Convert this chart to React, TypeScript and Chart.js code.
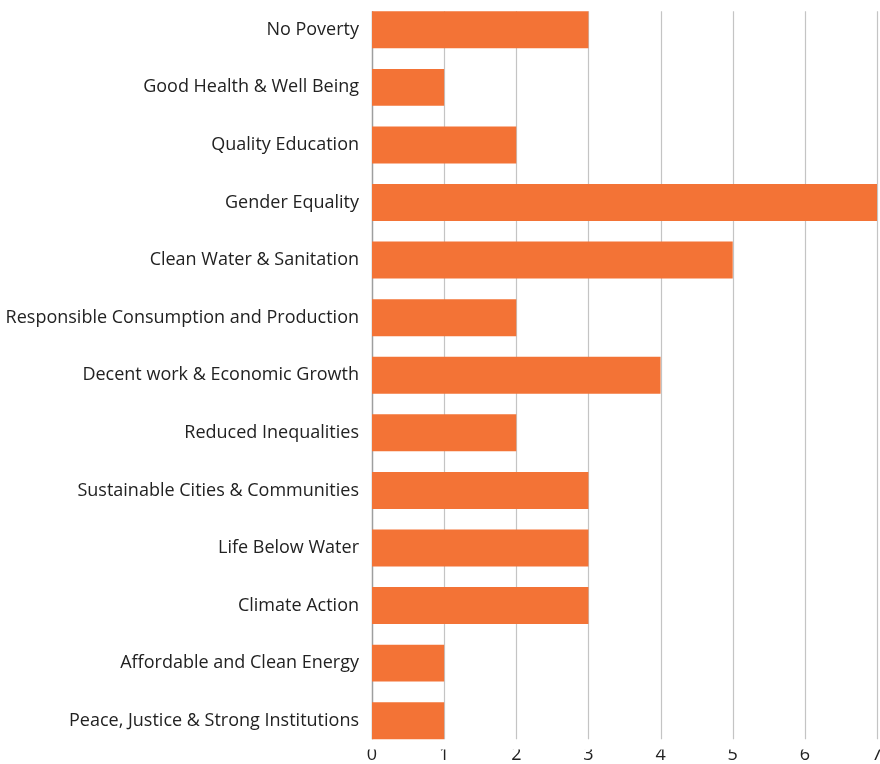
import React, { useEffect, useRef } from "react";
import { Chart, registerables } from "chart.js";

Chart.register(...registerables);

const categories: string[] = [
  "No Poverty",
  "Good Health & Well Being",
  "Quality Education",
  "Gender Equality",
  "Clean Water & Sanitation",
  "Responsible Consumption and Production",
  "Decent work & Economic Growth",
  "Reduced Inequalities",
  "Sustainable Cities & Communities",
  "Life Below Water",
  "Climate Action",
  "Affordable and Clean Energy",
  "Peace, Justice & Strong Institutions",
];

const values: number[] = [3, 1, 2, 7, 5, 2, 4, 2, 3, 3, 3, 1, 1];

const xMin = 0;
const xMax = 7;

const FONT = "'Open Sans', sans-serif";

const gridPlugin = {
  id: "barSpanGrid",
  beforeDatasetsDraw(chart: any) {
    const meta = chart.getDatasetMeta(0);
    const bars = meta.data;
    if (!bars.length) return;
    const first = bars[0];
    const last = bars[bars.length - 1];
    const top = first.y - first.height / 2;
    const bottom = last.y + last.height / 2;
    const xs = chart.scales.x;
    const ctx = chart.ctx;
    ctx.save();
    xs.ticks.forEach((t: any) => {
      const x = Math.round(xs.getPixelForValue(t.value)) + 0.5;
      ctx.beginPath();
      ctx.lineWidth = t.value === 0 ? 1.5 : 1.2;
      ctx.strokeStyle = t.value === 0 ? "#9e9e9e" : "#c4c4c4";
      ctx.moveTo(x, top);
      ctx.lineTo(x, bottom);
      ctx.stroke();
    });
    ctx.restore();
  },
};

export default function App() {
  const ref = useRef<HTMLCanvasElement | null>(null);
  useEffect(() => {
    if (!ref.current) return;
    const chart = new Chart(ref.current, {
      type: "bar",
      data: {
        labels: categories,
        datasets: [
          {
            data: values,
            backgroundColor: "#F37336",
            borderWidth: 0,
            barPercentage: 0.642,
            categoryPercentage: 1,
          },
        ],
      },
      options: {
        indexAxis: "y",
        responsive: false,
        animation: false,
        layout: { padding: { top: 1, left: 0, right: 13, bottom: 0 } },
        plugins: { legend: { display: false }, tooltip: { enabled: false } },
        scales: {
          x: {
            min: xMin,
            max: xMax,
            grid: { display: false, drawTicks: false },
            border: { display: false },
            ticks: {
              stepSize: 1,
              padding: -5,
              color: "#222",
              font: { family: FONT, size: 18 },
            },
            afterFit(scale: any) {
              scale.height = 30.5;
              scale.paddingLeft = 0;
              scale.paddingRight = 0;
            },
          },
          y: {
            grid: { display: false, drawTicks: false },
            border: { display: false },
            ticks: {
              padding: 13,
              color: "#222",
              font: { family: FONT, size: 18 },
              autoSkip: false,
            },
            afterFit(scale: any) {
              scale.width = 372;
              scale.paddingTop = 0;
              scale.paddingBottom = 0;
            },
          },
        },
      },
      plugins: [gridPlugin],
    });
    return () => chart.destroy();
  }, []);
  return (
    <div style={{ position: "fixed", left: 0, top: 0, width: 880, height: 764, overflow: "hidden", background: "#fff" }}>
      <canvas ref={ref} width={890} height={780} style={{ display: "block" }} />
    </div>
  );
}
